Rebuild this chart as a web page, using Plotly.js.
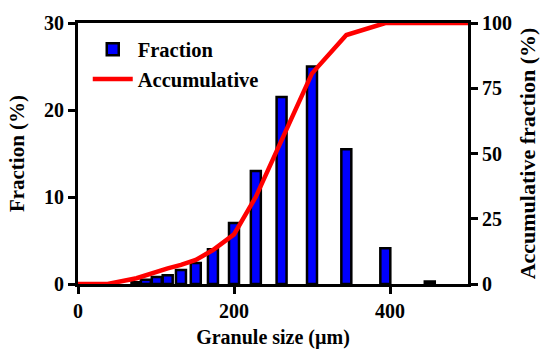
<!DOCTYPE html>
<html>
<head>
<meta charset="utf-8">
<script src="https://cdn.plot.ly/plotly-3.0.1.min.js"></script>
<style>html,body{margin:0;padding:0;background:#fff;}#chart{width:544px;height:349px;}</style>
</head>
<body>
<div id="chart"></div>
<script>
// Fraction bars (granule size in µm, fraction in %)
const barSizes = [75, 87, 101, 115, 132, 151, 173, 200, 228, 261, 300, 344, 394, 451];
const barFraction = [0.2, 0.5, 0.8, 1.0, 1.6, 2.4, 4.0, 7.0, 13.0, 21.5, 25.0, 15.5, 4.1, 0.3];
// Accumulative curve
const cumSizes = [0, 38, 75, 87, 101, 115, 132, 151, 173, 200, 228, 261, 300, 344, 394, 451, 500];
const cumValues = [0, 0, 2.2, 3.4, 4.7, 6.0, 7.3, 9.2, 13.0, 19.0, 33.4, 55.2, 80.7, 95.4, 100, 100, 100];

const F = {family: '"Liberation Serif", "Times New Roman", serif', size: 20, color: '#000', weight: 700};
const FT = Object.assign({}, F, {size: 21});

const traces = [
  {
    type: 'bar', name: 'Fraction', x: barSizes, y: barFraction,
    width: barSizes.map(() => 12.8),
    marker: {color: '#0000FF', line: {color: '#000', width: 2.5}},
    yaxis: 'y'
  },
  {
    type: 'scatter', mode: 'lines', name: 'Accumulative', x: cumSizes, y: cumValues,
    line: {color: '#FF0000', width: 4.5},
    yaxis: 'y2'
  }
];

const axisCommon = {
  showline: true, linecolor: '#000', linewidth: 3,
  ticks: 'outside', ticklen: 7, tickwidth: 3, tickcolor: '#000',
  showgrid: false, zeroline: false, tickfont: F
};

const layout = {
  width: 544, height: 349,
  margin: {l: 78, r: 76, t: 23, b: 65},
  paper_bgcolor: '#fff', plot_bgcolor: '#fff',
  font: F,
  showlegend: true,
  legend: {x: 0.025, y: 0.975, xanchor: 'left', yanchor: 'top', bgcolor: 'rgba(0,0,0,0)',
           font: Object.assign({}, F, {size: 20.5}), itemwidth: 40, tracegroupgap: 0},
  xaxis: Object.assign({}, axisCommon, {
    range: [0, 500], tickvals: [0, 200, 400], mirror: true,
    title: {text: 'Granule size (µm)', font: F, standoff: 9}
  }),
  yaxis: Object.assign({}, axisCommon, {
    range: [0, 30], tickvals: [0, 10, 20, 30],
    title: {text: 'Fraction (%)', font: FT, standoff: 14}
  }),
  yaxis2: Object.assign({}, axisCommon, {
    range: [0, 100], tickvals: [0, 25, 50, 75, 100],
    overlaying: 'y', side: 'right',
    title: {text: 'Accumulative fraction (%)', font: Object.assign({}, F, {size: 22}), standoff: 9}
  })
};

Plotly.newPlot('chart', traces, layout, {displayModeBar: false, staticPlot: true});
</script>
</body>
</html>
